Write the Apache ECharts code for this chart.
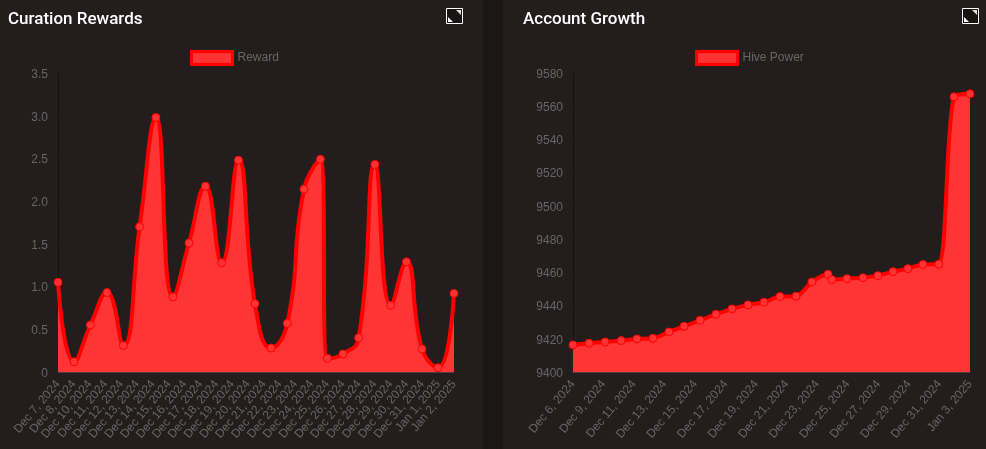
<!DOCTYPE html>
<html>
<head>
<meta charset="utf-8">
<title>Curation Rewards / Account Growth</title>
<script src="https://cdn.jsdelivr.net/npm/echarts@6/dist/echarts.min.js"></script>
<style>
  html, body { margin: 0; padding: 0; width: 986px; height: 449px; background: #1a1716; overflow: hidden; }
  .panel { position: absolute; top: 0; width: 483px; height: 449px; background: #231e1d; }
  #rewards { left: 0; }
  #growth { left: 503px; }
</style>
</head>
<body>
<div id="rewards" class="panel"></div>
<div id="growth" class="panel"></div>
<script>
// days since the first sample (the samples are not evenly spaced)
const rewardDays = [0, 1.05, 2.13, 3.22, 4.29, 5.36, 6.43, 7.55, 8.6, 9.68, 10.75, 11.85, 12.93,
  13.99, 15.06, 16.15, 17.23, 17.69, 18.71, 19.74, 20.8, 21.85, 22.88, 23.9, 24.95, 26]
const rewardValues = [1.05, 0.12, 0.55, 0.93, 0.31, 1.7, 2.98, 0.88, 1.51, 2.175, 1.28, 2.48, 0.8,
  0.28, 0.57, 2.14, 2.49, 0.16, 0.21, 0.4, 2.43, 0.78, 1.29, 0.27, 0.05, 0.92]
const rewardLabels = ['Dec 7, 2024', 'Dec 8, 2024', 'Dec 10, 2024', 'Dec 11, 2024', 'Dec 12, 2024', 'Dec 13, 2024',
  'Dec 14, 2024', 'Dec 15, 2024', 'Dec 16, 2024', 'Dec 17, 2024', 'Dec 18, 2024', 'Dec 19, 2024', 'Dec 20, 2024',
  'Dec 21, 2024', 'Dec 22, 2024', 'Dec 23, 2024', 'Dec 24, 2024', 'Dec 25, 2024', 'Dec 26, 2024', 'Dec 27, 2024',
  'Dec 28, 2024', 'Dec 29, 2024', 'Dec 30, 2024', 'Dec 31, 2024', 'Jan 1, 2025', 'Jan 2, 2025']

const growthDays = [0, 1.13, 2.26, 3.39, 4.51, 5.64, 6.77, 7.83, 8.96, 10.08, 11.21, 12.34, 13.47, 14.6,
  15.73, 16.85, 17.98, 18.26, 19.32, 20.45, 21.5, 22.57, 23.62, 24.68, 25.8, 26.87, 28]
const growthValues = [9416.3, 9417.3, 9418.1, 9418.9, 9419.9, 9420.3, 9424.1, 9427.5, 9431.1, 9434.7, 9438, 9440.4,
  9442, 9445.4, 9445.6, 9454.2, 9458.8, 9455.6, 9456.2, 9456.8, 9458, 9460.4, 9462.2, 9464.7, 9464.9, 9565.7, 9567.5]
const growthLabels = ['Dec 6, 2024', 'Dec 9, 2024', 'Dec 11, 2024', 'Dec 13, 2024', 'Dec 15, 2024', 'Dec 17, 2024',
  'Dec 19, 2024', 'Dec 21, 2024', 'Dec 23, 2024', 'Dec 25, 2024', 'Dec 27, 2024', 'Dec 29, 2024', 'Dec 31, 2024', 'Jan 3, 2025']

const textFont = '"Liberation Sans", Arial, sans-serif'

function drawPanel(id, cfg) {
  let myChart = echarts.init(document.getElementById(id))
  myChart.setOption({
    animation: false,
    backgroundColor: 'transparent',
    title: {
      text: cfg.title, left: cfg.titleLeft, top: 11, padding: 0,
      textStyle: { color: '#fff', fontFamily: 'Roboto', fontWeight: 500, fontSize: 17 }
    },
    legend: {
      left: cfg.legendLeft, top: 50, padding: 0, itemWidth: 41, itemHeight: 13, itemGap: 0,
      selectedMode: false,
      data: [{ name: cfg.name, icon: 'rect' }],
      itemStyle: { color: '#ff3333', borderColor: '#ff0000', borderWidth: 3 },
      lineStyle: { width: 0 },
      textStyle: { color: '#666', fontFamily: textFont, fontSize: 12, padding: [0, 0, 0, 0] }
    },
    grid: { left: cfg.gridLeft, top: 73, width: cfg.gridWidth, height: 299 },
    xAxis: [
      { type: 'value', min: 0, max: cfg.days[cfg.days.length - 1], show: false },
      {
        type: 'category', position: 'bottom', boundaryGap: false, data: cfg.labels, z: 5,
        axisLine: { lineStyle: { color: '#4a3f3c', width: 1 } },
        axisTick: { show: false },
        splitLine: { show: false },
        axisLabel: {
          interval: 0, rotate: 50, margin: 10, color: '#666',
          fontFamily: textFont, fontSize: 12, hideOverlap: false
        }
      }
    ],
    yAxis: {
      type: 'value', min: cfg.min, max: cfg.max, interval: cfg.step,
      axisLine: { show: true, lineStyle: { color: '#141110' } },
      axisTick: { show: false },
      splitLine: { show: true, lineStyle: { color: '#1f1b1a', type: 'dotted' } },
      axisLabel: {
        margin: 10, color: '#666', fontFamily: textFont, fontSize: 12,
        formatter: v => '{t|' + cfg.format(v) + '}',
        rich: { t: { color: '#666', fontFamily: textFont, fontSize: 12, padding: [3, 0, 0, 0] } }
      }
    },
    series: [{
      name: cfg.name, type: 'line', xAxisIndex: 0, clip: false,
      data: cfg.days.map((d, i) => [d, cfg.values[i]]),
      smooth: cfg.smooth, smoothConstraint: false,
      symbol: 'circle', symbolSize: 8,
      lineStyle: { color: '#ff0000', width: 4 },
      itemStyle: { color: '#ff3333', borderColor: '#ff0000', borderWidth: 1 },
      areaStyle: { color: '#ff3535', opacity: 1 }
    }],
    // expand icon in the corner of the card
    graphic: [{
      type: 'group', left: cfg.iconLeft, top: 8,
      children: [
        { type: 'rect', shape: { x: 0.5, y: 0.5, width: 16, height: 15 }, style: { fill: '#171413', stroke: '#fff', lineWidth: 1 } },
        { type: 'polygon', shape: { points: [[10, 2], [15, 2], [15, 7]] }, style: { fill: '#e8e0de' } },
        { type: 'polygon', shape: { points: [[2, 9], [2, 14], [7, 14]] }, style: { fill: '#fff' } }
      ]
    }]
  })
  window.onresize = function () {
    myChart.resize()
  }
}

drawPanel('rewards', {
  title: 'Curation Rewards', titleLeft: 8, name: 'Reward', legendLeft: 190, iconLeft: 446,
  gridLeft: 58, gridWidth: 396, min: 0, max: 3.5, step: 0.5, smooth: 0.5,
  days: rewardDays, values: rewardValues, labels: rewardLabels,
  format: v => (v === 0 ? '0' : v.toFixed(1))
})
drawPanel('growth', {
  title: 'Account Growth', titleLeft: 20, name: 'Hive Power', legendLeft: 192, iconLeft: 459,
  gridLeft: 70, gridWidth: 397, min: 9400, max: 9580, step: 20, smooth: 0.3,
  days: growthDays, values: growthValues, labels: growthLabels,
  format: v => String(v)
})
</script>
</body>
</html>
